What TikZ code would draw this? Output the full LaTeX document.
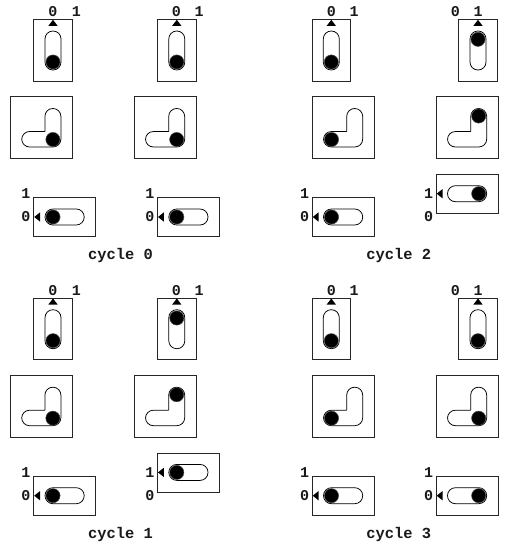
\documentclass[tikz,border=0pt]{standalone}
\usepackage{fontspec}
\setmonofont{Liberation Mono}
\tikzset{
  frame/.style={draw=black!85,line width=0.75pt},
  slot/.style={draw=black,line width=0.75pt,rounded corners=7.9pt},
  ball/.style={fill=black,draw=black!70,line width=0.5pt},
  tip/.style={fill=black},
  digit/.style={font=\ttfamily\bfseries\fontsize{15}{15}\selectfont,inner sep=0pt,text=black!90},
  title/.style={font=\ttfamily\bfseries\fontsize{15.4}{15.4}\selectfont,inner sep=0pt,text=black!90}
}
% vertical switch: centre x, row shift, ball y, x of label 0, x of label 1
\newcommand{\VSw}[5]{%
  \begin{scope}[yshift=-#2pt]
    \draw[frame] (#1-19.4,19.5) rectangle (#1+19.4,81);
    \draw[slot] (#1-8,31) rectangle (#1+8,70);
    \fill[tip] (#1,19.8) -- (#1+4.6,25.8) -- (#1-4.6,25.8) -- cycle;
    \draw[ball] (#1,#3) circle (7.1);
    \node[digit] at (#4,11.5) {0};
    \node[digit] at (#5,11.5) {1};
  \end{scope}}
% angled switch: left of box, row shift, ball x offset, ball y
\newcommand{\LSw}[4]{%
  \begin{scope}[shift={(#1,#2)}]
    \draw[frame] (0,96.7) rectangle (62.3,158.5);
    \draw[slot] (34.7,131.5) -- (34.7,108.5) -- (50.7,108.5) -- (50.7,147) -- (11.5,147) -- (11.5,131.5) -- (34.7,131.5);
    \draw[ball] (#3,#4) circle (7.1);
  \end{scope}}
% horizontal switch: left of box, row shift, ball x offset, box shift up
\newcommand{\HSw}[4]{%
  \begin{scope}[shift={(#1,#2)}]
    \draw[frame] (0,197.5-#4) rectangle (62.2,236.5-#4);
    \draw[slot] (11.5,209-#4) rectangle (50.7,225-#4);
    \fill[tip] (0.7,217-#4) -- (6.5,212.4-#4) -- (6.5,221.6-#4) -- cycle;
    \draw[ball] (#3,217-#4) circle (7.1);
    \node[digit] at (-7.5,193.5) {1};
    \node[digit] at (-7.5,216.5) {0};
  \end{scope}}
\begin{document}
\begin{tikzpicture}[x=1pt,y=-1pt]
\useasboundingbox (0,0) rectangle (508,547);
\fill[white] (0,0) rectangle (508,547);
% cycle 0
\VSw{53}{0}{62}{53}{76.3}
\VSw{176.8}{0}{62}{176.3}{199}
\LSw{10.2}{0}{42.7}{139.5}
\LSw{134}{0}{42.7}{139.5}
\HSw{33.5}{0}{19.5}{0}
\HSw{157.3}{0}{19.5}{0}
\node[title] (c0) at (120.5,256) {cycle 0};
% cycle 2
\VSw{331.3}{0}{62}{331.3}{354}
\VSw{478}{0}{39.3}{455.3}{478}
\LSw{312}{0}{19.5}{139.5}
\LSw{436}{0}{42.7}{116}
\HSw{312}{0}{19.5}{0}
\HSw{436}{0}{42.7}{23.3}
\node[title] (c2) at (398.8,256) {cycle 2};
% cycle 1
\VSw{53}{278.7}{62}{53}{76.3}
\VSw{176.8}{278.7}{39.3}{176.3}{199}
\LSw{10.2}{278.7}{42.7}{139.5}
\LSw{134}{278.7}{42.7}{116}
\HSw{33.5}{278.7}{19.5}{0}
\HSw{157.3}{278.7}{19.5}{23.3}
\node[title] (c1) at (120.5,535) {cycle 1};
% cycle 3
\VSw{331.3}{278.7}{62}{331.3}{354}
\VSw{478}{278.7}{62}{455.3}{478}
\LSw{312}{278.7}{19.5}{139.5}
\LSw{436}{278.7}{42.7}{139.5}
\HSw{312}{278.7}{19.5}{0}
\HSw{436}{278.7}{42.7}{0}
\node[title] (c3) at (398.8,535) {cycle 3};
\end{tikzpicture}
\end{document}
